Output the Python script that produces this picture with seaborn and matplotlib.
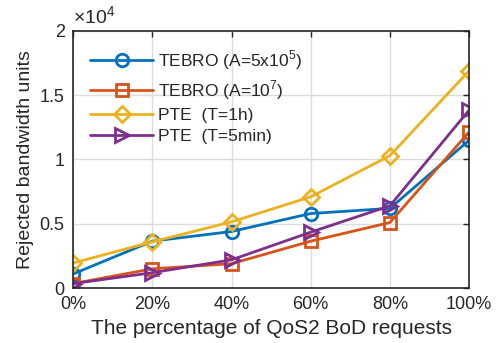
import matplotlib
matplotlib.use("Agg")
import matplotlib.pyplot as plt
import seaborn as sns
import pandas as pd

percent = [0, 20, 40, 60, 80, 100]
tebro_5e5 = [1100, 3650, 4400, 5800, 6200, 11500]
tebro_1e7 = [350, 1500, 1900, 3650, 5100, 12150]
pte_1h = [1950, 3600, 5150, 7100, 10300, 16900]
pte_5min = [350, 1200, 2200, 4350, 6400, 13850]

labels = ['TEBRO (A=5x10$^5$)', 'TEBRO (A=10$^7$)', 'PTE  (T=1h)', 'PTE  (T=5min)']
series = [tebro_5e5, tebro_1e7, pte_1h, pte_5min]
colors = ['#0072BD', '#D95319', '#EDB120', '#7E2F8E']
markers = ['o', 's', 'D', '>']
msizes = [9, 8, 8, 10]

sns.set_style("white")
plt.rcParams['font.family'] = ['Liberation Sans', 'DejaVu Sans']
plt.rcParams['mathtext.fontset'] = 'custom'
plt.rcParams['mathtext.rm'] = 'Liberation Sans'

fig = plt.figure(figsize=(4.97, 3.43), dpi=100)
ax = fig.add_axes([0.147, 0.160, 0.797, 0.750])

for lab, vals, c, m, ms in zip(labels, series, colors, markers, msizes):
    df = pd.DataFrame({'x': percent, 'y': vals})
    sns.lineplot(data=df, x='x', y='y', ax=ax, color=c, marker=m, markersize=ms,
                 markerfacecolor='none', markeredgecolor=c, markeredgewidth=2,
                 linewidth=2, label=lab)

ax.set_xlim(0, 100)
ax.set_ylim(0, 20000)
ax.set_xticks(percent)
ax.set_xticklabels([f'{p}%' for p in percent])
ax.set_yticks([0, 5000, 10000, 15000, 20000])
ax.set_yticklabels(['0', '0.5', '1', '1.5', '2'])
ax.text(0.0, 1.01, r'$\times10^4$', transform=ax.transAxes, fontsize=14,
        color='#262626', ha='left', va='bottom')

ax.grid(True, color='#dcdcdc', linewidth=1)
ax.tick_params(direction='in', top=True, right=True, length=4, width=1,
               labelsize=13, colors='#262626', pad=6)
for s in ax.spines.values():
    s.set_color('#262626')
    s.set_linewidth(1.2)

ax.set_xlabel('The percentage of QoS2 BoD requests', fontsize=15, color='#262626')
ax.set_ylabel('Rejected bandwidth units', fontsize=14, color='#262626')

ax.legend(loc='upper left', frameon=False, fontsize=12.5, handlelength=3.6,
          handletextpad=0.3, labelspacing=0.35, borderaxespad=0.6)

fig.savefig('out.png', dpi=100)
